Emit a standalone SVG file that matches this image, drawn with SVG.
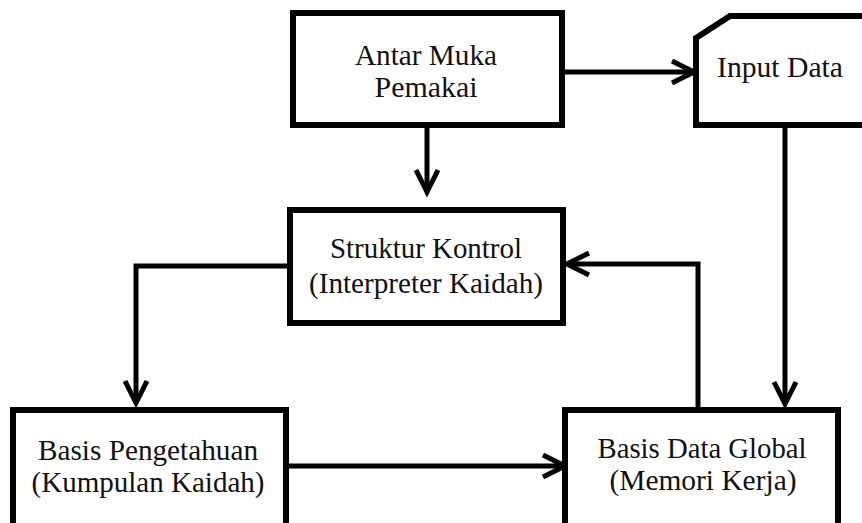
<svg xmlns="http://www.w3.org/2000/svg" width="862" height="523" viewBox="0 0 862 523">
  <style>
    .box { fill: #fff; stroke: #000; stroke-width: 6; stroke-linejoin: miter; }
    .line { fill: none; stroke: #000; stroke-width: 5; stroke-linejoin: miter; }
    .head { fill: none; stroke: #000; stroke-width: 5; stroke-linejoin: miter; stroke-linecap: butt; }
    .lbl { font-family: "Liberation Serif", "Times New Roman", serif; font-size: 30px; fill: #111; }
  </style>
  <rect width="862" height="523" fill="#fff"/>

  <g id="connectors">
    <!-- Antar Muka -> Input Data -->
    <path class="line" d="M563,72 H692"/>
    <path class="head" d="M672,61 L694,72 L672,83"/>
    <!-- Antar Muka -> Struktur Kontrol -->
    <path class="line" d="M427,126 V190"/>
    <path class="head" d="M416,170 L427,192 L438,170"/>
    <!-- Struktur Kontrol -> Basis Pengetahuan -->
    <path class="line" d="M290,266 H136 V401"/>
    <path class="head" d="M125,381 L136,403 L147,381"/>
    <!-- Basis Pengetahuan -> Basis Data Global -->
    <path class="line" d="M287,466 H563"/>
    <path class="head" d="M543,455 L565,466 L543,477"/>
    <!-- Input Data -> Basis Data Global -->
    <path class="line" d="M785,126 V402"/>
    <path class="head" d="M774,382 L785,404 L796,382"/>
    <!-- Basis Data Global -> Struktur Kontrol -->
    <path class="line" d="M698,410 V264 H568"/>
    <path class="head" d="M589,253 L567,264 L589,275"/>
  </g>

  <g id="antar-muka">
    <rect class="box" x="293" y="13" width="269" height="112"/>
    <text class="lbl" x="426" y="65" text-anchor="middle" textLength="142" lengthAdjust="spacingAndGlyphs">Antar Muka</text>
    <text class="lbl" x="426" y="97" text-anchor="middle" textLength="103" lengthAdjust="spacingAndGlyphs">Pemakai</text>
  </g>

  <g id="input-data">
    <path class="box" d="M696,38 L730,16 H870 V125 H696 Z"/>
    <text class="lbl" x="717" y="77" textLength="126" lengthAdjust="spacingAndGlyphs">Input Data</text>
  </g>

  <g id="struktur-kontrol">
    <rect class="box" x="290" y="210" width="273" height="113"/>
    <text class="lbl" x="426" y="258" text-anchor="middle" textLength="192" lengthAdjust="spacingAndGlyphs">Struktur  Kontrol</text>
    <text class="lbl" x="426" y="293" text-anchor="middle" textLength="234" lengthAdjust="spacingAndGlyphs">(Interpreter Kaidah)</text>
  </g>

  <g id="basis-pengetahuan">
    <rect class="box" x="13" y="410" width="273" height="125"/>
    <text class="lbl" x="148" y="460" text-anchor="middle" textLength="220" lengthAdjust="spacingAndGlyphs">Basis Pengetahuan</text>
    <text class="lbl" x="148" y="492" text-anchor="middle" textLength="233" lengthAdjust="spacingAndGlyphs">(Kumpulan Kaidah)</text>
  </g>

  <g id="basis-data-global">
    <rect class="box" x="565" y="410" width="273" height="125"/>
    <text class="lbl" x="702" y="458" text-anchor="middle" textLength="209" lengthAdjust="spacingAndGlyphs">Basis Data Global</text>
    <text class="lbl" x="703" y="490" text-anchor="middle" textLength="187" lengthAdjust="spacingAndGlyphs">(Memori Kerja)</text>
  </g>
</svg>
